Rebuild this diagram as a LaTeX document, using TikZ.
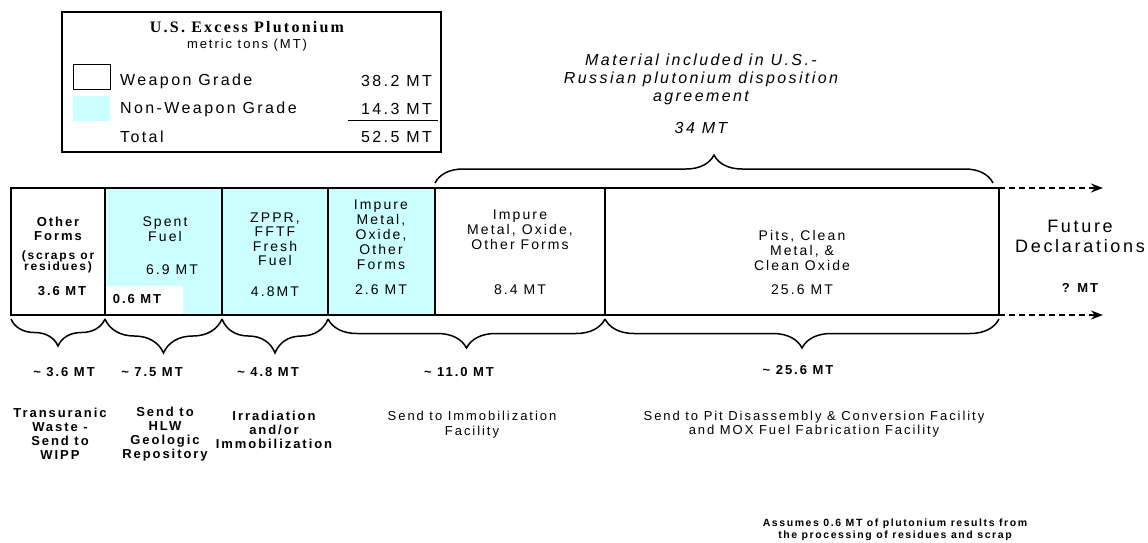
\documentclass[tikz,border=0pt]{standalone}
\usepackage{fontspec}
\setmainfont{Liberation Sans}[LetterSpace=15]
\newfontfamily\legendserif{Liberation Serif}[LetterSpace=14]
\usetikzlibrary{arrows.meta,decorations.pathreplacing}
\definecolor{nwgcyan}{RGB}{204,255,255}

\tikzset{
  barline/.style={line width=1.3pt},
  divider/.style={line width=1.8pt},
  braceup/.style={decorate, decoration={brace, amplitude=#1}, line width=1.5pt},
  bracedown/.style={decorate, decoration={brace, mirror, amplitude=#1}, line width=1.5pt},
  futurearrow/.style={dash pattern=on 6pt off 4pt, line width=1.3pt, -{Stealth[length=12pt,width=9pt]}},
  celltxt/.style={align=center, inner sep=0pt, font=\fontsize{14}{15}\selectfont},
  boldtxt/.style={align=center, inner sep=0pt, font=\fontsize{13}{14}\selectfont\bfseries},
  legtxt/.style={inner sep=0pt, font=\fontsize{16}{18}\selectfont},
}

\begin{document}
\begin{tikzpicture}[x=1pt,y=-1pt]
\useasboundingbox (0,0) rectangle (1148,542);

% legend
\draw[line width=1.3pt] (62,12) rectangle (441,152);
\node[inner sep=0pt, font={\legendserif\fontsize{16}{18}\selectfont\bfseries}] (legtitle) at (247,27) {U.S. Excess Plutonium};
\node[inner sep=0pt, font=\fontsize{13}{15}\selectfont] (legunit) at (247,45) {metric tons (MT)};
\draw[line width=1pt] (73,64) rectangle (110,89);
\fill[nwgcyan] (73,96) rectangle (110,121);
\node[legtxt, anchor=west] (wglabel) at (120,81) {Weapon Grade};
\node[legtxt, anchor=west] (nwglabel) at (120,109) {Non-Weapon Grade};
\node[legtxt, anchor=west] (totlabel) at (120,137) {Total};
\node[legtxt, anchor=east] (wgval) at (432,81) {38.2 MT};
\node[legtxt, anchor=east] (nwgval) at (432,109) {14.3 MT};
\node[legtxt, anchor=east] (totval) at (432,137) {52.5 MT};
\draw[line width=0.9pt] (348,120) -- (438,120);

% bar corners
\foreach \i/\x in {0/11,1/105,2/222,3/328,4/435,5/605,6/999} {
  \coordinate (t\i) at (\x,188);
  \coordinate (u\i) at (\x,315);
  \coordinate (v\i) at (\x,319);
}

% bar
\fill[nwgcyan] (t1) rectangle (u4);
\fill[white] (106,286) rectangle (183,314);
\draw[barline] (t0) rectangle (u6);
\foreach \i in {1,...,5} \draw[divider] (t\i) -- (u\i);

% cell texts
\node[boldtxt] (otherforms) at (58,229) {Other\\Forms};
\node[boldtxt, font=\fontsize{12}{11.5}\selectfont\bfseries] (scraps) at (58,262) {(scraps or\\residues)};
\node[boldtxt] (othermt) at (62,291) {3.6 MT};
\node[celltxt] (spent) at (165,229) {Spent\\Fuel};
\node[celltxt] (spentmt) at (172,270) {6.9 MT};
\node[boldtxt] (spentsub) at (137,299) {0.6 MT};
\node[celltxt, font=\fontsize{14}{14.5}\selectfont] (zppr) at (275,239) {ZPPR,\\FFTF\\Fresh\\Fuel};
\node[celltxt] (zpprmt) at (275,292) {4.8MT};
\node[celltxt] (impnwg) at (381,235) {Impure\\Metal,\\Oxide,\\Other\\Forms};
\node[celltxt] (impnwgmt) at (381,290) {2.6 MT};
\node[celltxt] (impwg) at (520,230) {Impure\\Metal, Oxide,\\Other Forms};
\node[celltxt] (impwgmt) at (520,290) {8.4 MT};
\node[celltxt] (pits) at (802,250) {Pits, Clean\\Metal, \&\\Clean Oxide};
\node[celltxt] (pitsmt) at (802,290) {25.6 MT};

% future declarations
\coordinate (fa) at (1103,188);
\coordinate (fb) at (1103,315);
\draw[futurearrow] (t6) -- (fa);
\draw[futurearrow] (u6) -- (fb);
\node[align=center, inner sep=0pt, font=\fontsize{18}{20}\selectfont] (future) at (1080,236) {Future\\Declarations};
\node[boldtxt] (futuremt) at (1080,288) {? MT};

% agreement brace
\coordinate (ba) at (435,183);
\coordinate (bb) at (993,183);
\draw[braceup=28pt] (ba) -- (bb);
\node[align=center, inner sep=0pt, font=\fontsize{16}{18}\selectfont\itshape] (agree) at (701,79) {Material included in U.S.-\\Russian plutonium disposition\\agreement};
\node[inner sep=0pt, font=\fontsize{16}{18}\selectfont\itshape] (agreemt) at (701,128) {34 MT};

% disposition braces
\draw[bracedown=27pt] (v0) -- (v1);
\draw[bracedown=34pt] (v1) -- (v2);
\draw[bracedown=34pt] (v2) -- (v3);
\draw[bracedown=29pt] (v3) -- (v5);
\draw[bracedown=29pt] (v5) -- (v6);

\node[boldtxt] (tru) at (64,372) {\textasciitilde{} 3.6 MT};
\node[boldtxt] (hlw) at (152,372) {\textasciitilde{} 7.5 MT};
\node[boldtxt] (irr) at (268,372) {\textasciitilde{} 4.8 MT};
\node[boldtxt] (imm) at (459,372) {\textasciitilde{} 11.0 MT};
\node[boldtxt] (mox) at (798,370) {\textasciitilde{} 25.6 MT};

\node[boldtxt] (trudest) at (60,434) {Transuranic\\Waste -\\Send to\\WIPP};
\node[boldtxt] (hlwdest) at (165,434) {Send to\\HLW\\Geologic\\Repository};
\node[boldtxt] (irrdest) at (274,430) {Irradiation\\and/or\\Immobilization};
\node[boldtxt, font=\fontsize{13}{15}\selectfont] (immdest) at (472,425) {Send to Immobilization\\Facility};
\node[boldtxt, font=\fontsize{13}{14}\selectfont] (moxdest) at (814,424) {Send to Pit Disassembly \& Conversion Facility\\and MOX Fuel Fabrication Facility};

\node[boldtxt, font=\fontsize{10.5}{12}\selectfont\bfseries] (note) at (895,530) {Assumes 0.6 MT of plutonium results from\\the processing of residues and scrap};
\end{tikzpicture}
\end{document}
